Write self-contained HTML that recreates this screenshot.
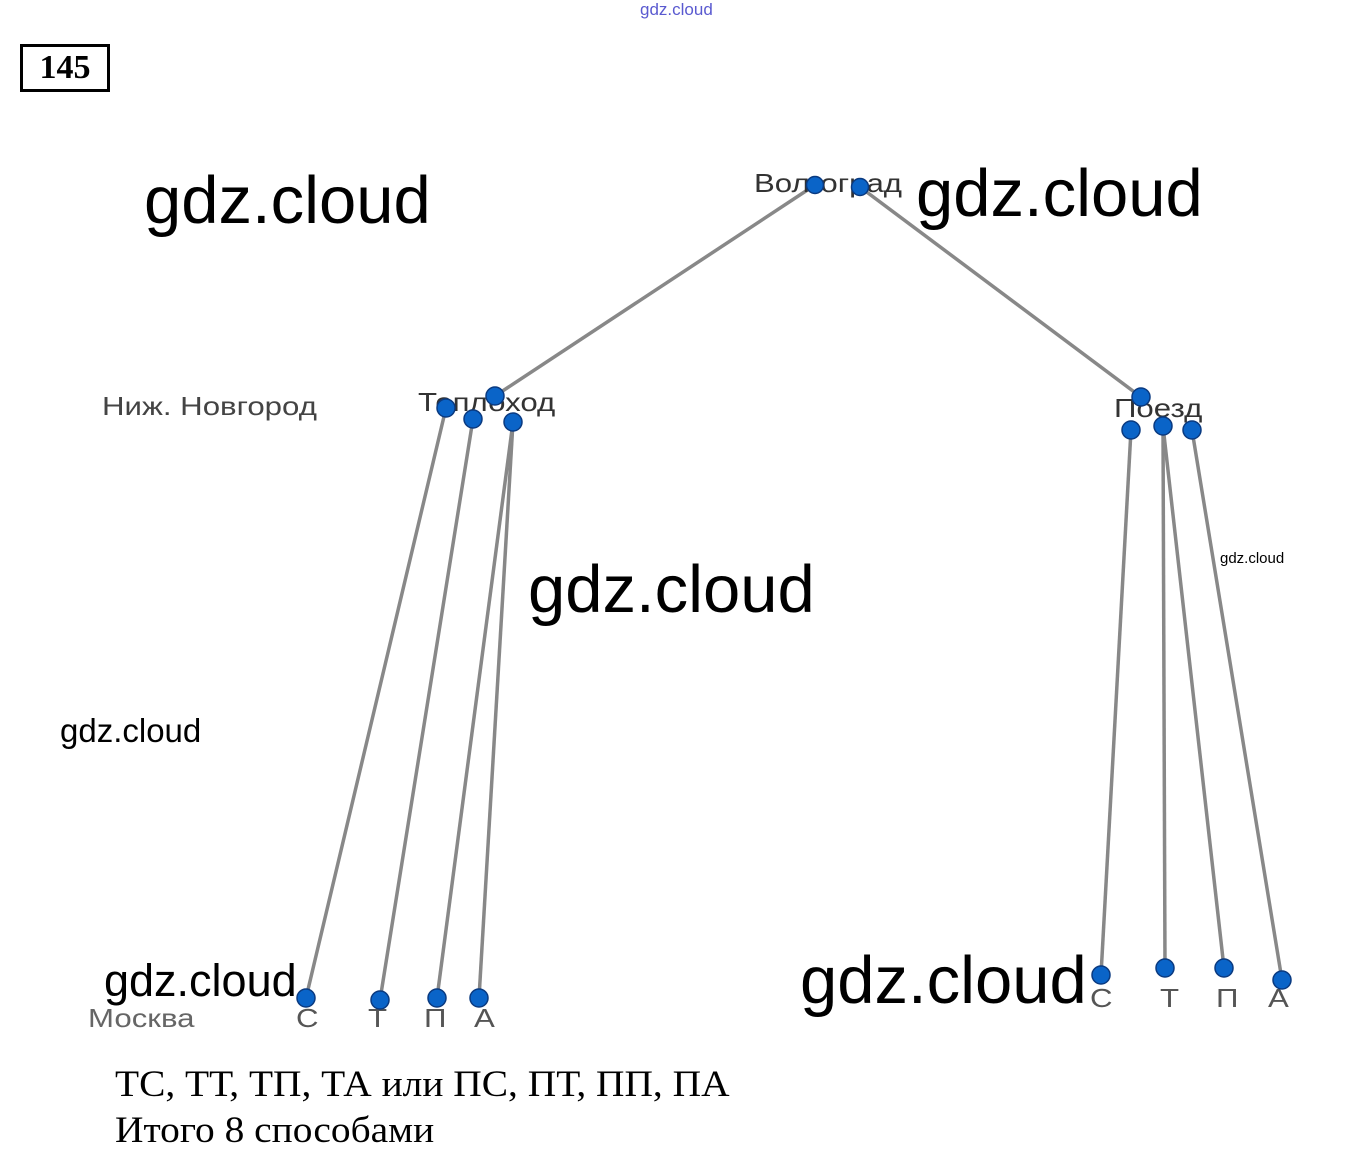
<!DOCTYPE html>
<html><head><meta charset="utf-8"><style>
body{margin:0;background:#fff;width:1356px;height:1166px;overflow:hidden;position:relative}
.t{position:absolute;white-space:nowrap}
.w{font-family:"Liberation Sans",sans-serif;color:#000}
.l{font-family:"Liberation Sans",sans-serif;color:#333;font-size:26px;transform:scaleX(1.2);transform-origin:0 0}
</style></head><body>
<div class="t" style="left:640px;top:0;font-family:'Liberation Sans',sans-serif;font-size:17px;color:#5a5ad0">gdz.cloud</div>
<div class="t" style="left:20px;top:44px;width:84px;height:42px;border:3px solid #000;font-family:'Liberation Serif',serif;font-weight:bold;font-size:34px;line-height:42px;text-align:center">145</div>
<svg width="1356" height="1166" style="position:absolute;left:0;top:0">
<g stroke="#888" stroke-width="3.5" fill="none">
<line x1="815" y1="185" x2="495" y2="396"/>
<line x1="860" y1="187" x2="1141" y2="397"/>
<line x1="446" y1="408" x2="306" y2="998"/>
<line x1="473" y1="419" x2="380" y2="1000"/>
<line x1="513" y1="422" x2="437" y2="998"/>
<line x1="513" y1="422" x2="479" y2="998"/>
<line x1="1131" y1="430" x2="1101" y2="975"/>
<line x1="1163" y1="426" x2="1165" y2="968"/>
<line x1="1163" y1="426" x2="1224" y2="968"/>
<line x1="1192" y1="430" x2="1282" y2="980"/>
</g>
</svg>
<div class="t l" style="left:754px;top:168px">Волгоград</div>
<div class="t l" style="left:418px;top:387px">Теплоход</div>
<div class="t l" style="left:1114px;top:393px">Поезд</div>
<div class="t l" style="left:102px;top:391px;color:#444">Ниж. Новгород</div>
<div class="t l" style="left:88px;top:1003px;color:#666">Москва</div>
<div class="t l" style="left:296px;top:1003px;color:#555">С</div>
<div class="t l" style="left:368px;top:1003px;color:#555">Т</div>
<div class="t l" style="left:424px;top:1003px;color:#555">П</div>
<div class="t l" style="left:474px;top:1003px;color:#555">А</div>
<div class="t l" style="left:1090px;top:983px;color:#555">С</div>
<div class="t l" style="left:1160px;top:983px;color:#555">Т</div>
<div class="t l" style="left:1216px;top:983px;color:#555">П</div>
<div class="t l" style="left:1268px;top:983px;color:#555">А</div>
<svg width="1356" height="1166" style="position:absolute;left:0;top:0">
<g fill="#0a64c8" stroke="#0a3a80" stroke-width="1.5">
<circle cx="815" cy="185" r="8.5"/><circle cx="860" cy="187" r="8.5"/>
<circle cx="495" cy="396" r="9"/><circle cx="446" cy="408" r="9"/><circle cx="473" cy="419" r="9"/><circle cx="513" cy="422" r="9"/>
<circle cx="1141" cy="397" r="9"/><circle cx="1131" cy="430" r="9"/><circle cx="1163" cy="426" r="9"/><circle cx="1192" cy="430" r="9"/>
<circle cx="306" cy="998" r="9"/><circle cx="380" cy="1000" r="9"/><circle cx="437" cy="998" r="9"/><circle cx="479" cy="998" r="9"/>
<circle cx="1101" cy="975" r="9"/><circle cx="1165" cy="968" r="9"/><circle cx="1224" cy="968" r="9"/><circle cx="1282" cy="980" r="9"/>
</g></svg>
<div class="t w" style="left:144px;top:162px;font-size:67px">gdz.cloud</div>
<div class="t w" style="left:916px;top:155px;font-size:67px">gdz.cloud</div>
<div class="t w" style="left:528px;top:551px;font-size:67px">gdz.cloud</div>
<div class="t w" style="left:800px;top:942px;font-size:67px">gdz.cloud</div>
<div class="t w" style="left:104px;top:955px;font-size:45px">gdz.cloud</div>
<div class="t w" style="left:60px;top:712px;font-size:33px">gdz.cloud</div>
<div class="t w" style="left:1220px;top:550px;font-size:15px">gdz.cloud</div>
<div class="t" style="left:115px;top:1062px;font-family:'Liberation Serif',serif;font-size:37px;line-height:46px;transform:scaleX(1.065);transform-origin:0 0">ТС, ТТ, ТП, ТА или ПС, ПТ, ПП, ПА<br>Итого 8 способами</div>
</body></html>
